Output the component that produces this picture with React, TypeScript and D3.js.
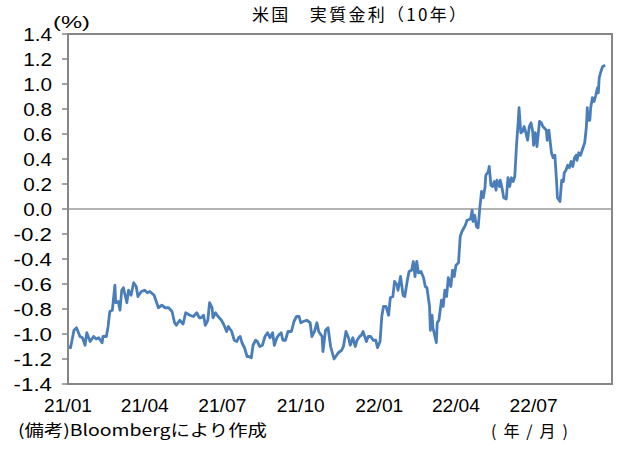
import * as d3 from "d3";

// 米国 実質金利（10年）, %
const DATES = [
  "2021-01-01", "2021-01-04", "2021-01-08", "2021-01-11", "2021-01-15", "2021-01-18", "2021-01-21", "2021-01-23",
  "2021-01-27", "2021-01-31", "2021-02-03", "2021-02-06", "2021-02-10", "2021-02-11", "2021-02-15", "2021-02-17",
  "2021-02-19", "2021-02-22", "2021-02-25", "2021-02-26", "2021-03-01", "2021-03-03", "2021-03-05", "2021-03-07",
  "2021-03-09", "2021-03-11", "2021-03-13", "2021-03-16", "2021-03-19", "2021-03-22", "2021-03-24", "2021-03-28",
  "2021-04-01", "2021-04-04", "2021-04-07", "2021-04-12", "2021-04-15", "2021-04-17", "2021-04-21", "2021-04-25",
  "2021-04-29", "2021-05-03", "2021-05-06", "2021-05-08", "2021-05-12", "2021-05-16", "2021-05-19", "2021-05-24",
  "2021-05-28", "2021-06-01", "2021-06-04", "2021-06-06", "2021-06-09", "2021-06-11", "2021-06-14", "2021-06-16",
  "2021-06-19", "2021-06-20", "2021-06-23", "2021-06-26", "2021-06-30", "2021-07-03", "2021-07-06", "2021-07-08",
  "2021-07-12", "2021-07-15", "2021-07-18", "2021-07-20", "2021-07-22", "2021-07-24", "2021-07-27", "2021-07-30",
  "2021-08-01", "2021-08-04", "2021-08-06", "2021-08-09", "2021-08-11", "2021-08-14", "2021-08-17", "2021-08-20",
  "2021-08-23", "2021-08-26", "2021-08-29", "2021-08-31", "2021-09-03", "2021-09-05", "2021-09-08", "2021-09-10",
  "2021-09-13", "2021-09-16", "2021-09-20", "2021-09-23", "2021-09-26", "2021-09-29", "2021-10-01", "2021-10-04",
  "2021-10-08", "2021-10-12", "2021-10-14", "2021-10-17", "2021-10-20", "2021-10-22", "2021-10-26", "2021-10-27",
  "2021-10-30", "2021-11-02", "2021-11-05", "2021-11-09", "2021-11-14", "2021-11-18", "2021-11-20", "2021-11-23",
  "2021-11-26", "2021-11-28", "2021-12-01", "2021-12-04", "2021-12-06", "2021-12-09", "2021-12-11", "2021-12-13",
  "2021-12-17", "2021-12-19", "2021-12-22", "2021-12-25", "2021-12-28", "2021-12-30", "2022-01-02", "2022-01-04",
  "2022-01-06", "2022-01-09", "2022-01-12", "2022-01-14", "2022-01-17", "2022-01-19", "2022-01-22", "2022-01-23",
  "2022-01-26", "2022-01-29", "2022-01-31", "2022-02-03", "2022-02-05", "2022-02-08", "2022-02-10", "2022-02-12",
  "2022-02-14", "2022-02-16", "2022-02-19", "2022-02-22", "2022-02-24", "2022-02-26", "2022-03-01", "2022-03-02",
  "2022-03-04", "2022-03-05", "2022-03-09", "2022-03-10", "2022-03-12", "2022-03-15", "2022-03-17", "2022-03-19",
  "2022-03-21", "2022-03-23", "2022-03-26", "2022-03-28", "2022-03-30", "2022-04-01", "2022-04-04", "2022-04-06",
  "2022-04-08", "2022-04-12", "2022-04-14", "2022-04-18", "2022-04-20", "2022-04-21", "2022-04-23", "2022-04-25",
  "2022-04-27", "2022-04-29", "2022-05-01", "2022-05-03", "2022-05-05", "2022-05-06", "2022-05-09", "2022-05-10",
  "2022-05-12", "2022-05-14", "2022-05-16", "2022-05-18", "2022-05-19", "2022-05-22", "2022-05-23", "2022-05-25",
  "2022-05-27", "2022-05-30", "2022-06-01", "2022-06-03", "2022-06-05", "2022-06-07", "2022-06-09", "2022-06-11",
  "2022-06-13", "2022-06-14", "2022-06-16", "2022-06-18", "2022-06-20", "2022-06-22", "2022-06-24", "2022-06-26",
  "2022-06-28", "2022-06-30", "2022-07-01", "2022-07-03", "2022-07-05", "2022-07-08", "2022-07-10", "2022-07-12",
  "2022-07-16", "2022-07-17", "2022-07-19", "2022-07-22", "2022-07-24", "2022-07-26", "2022-07-28", "2022-07-29",
  "2022-08-01", "2022-08-03", "2022-08-05", "2022-08-06", "2022-08-08", "2022-08-10", "2022-08-12", "2022-08-14",
  "2022-08-16", "2022-08-18", "2022-08-20", "2022-08-21", "2022-08-23", "2022-08-25", "2022-08-28", "2022-08-30",
  "2022-09-01", "2022-09-02", "2022-09-03", "2022-09-05", "2022-09-06", "2022-09-08", "2022-09-10", "2022-09-12",
  "2022-09-14", "2022-09-15", "2022-09-16", "2022-09-18", "2022-09-20", "2022-09-23",
];

const VALUES = [
  -1.10, -1.11, -0.97, -0.95, -1.02, -1.03, -1.09, -0.99,
  -1.06, -1.02, -1.04, -1.03, -1.07, -1.02, -1.02, -0.94,
  -0.82, -0.81, -0.61, -0.75, -0.74, -0.81, -0.65, -0.63,
  -0.69, -0.75, -0.65, -0.69, -0.59, -0.62, -0.70, -0.66,
  -0.65, -0.67, -0.66, -0.69, -0.75, -0.79, -0.77, -0.79,
  -0.79, -0.82, -0.91, -0.93, -0.89, -0.92, -0.83, -0.85,
  -0.86, -0.83, -0.87, -0.87, -0.85, -0.93, -0.89, -0.75,
  -0.79, -0.87, -0.83, -0.86, -0.89, -0.93, -0.98, -0.94,
  -0.98, -1.05, -1.06, -1.03, -1.02, -1.07, -1.11, -1.18,
  -1.18, -1.19, -1.09, -1.05, -1.06, -1.10, -1.09, -1.02,
  -0.99, -1.03, -0.99, -1.09, -1.03, -1.01, -0.99, -1.05,
  -1.05, -0.98, -0.98, -0.90, -0.86, -0.86, -0.91, -0.90,
  -0.89, -0.91, -1.02, -0.98, -0.91, -0.98, -1.02, -1.14,
  -0.97, -0.95, -1.10, -1.20, -1.15, -1.13, -1.10, -0.98,
  -1.03, -1.09, -1.03, -1.10, -1.05, -1.02, -1.01, -0.98,
  -1.06, -1.02, -1.02, -1.05, -1.05, -1.11, -1.06, -0.86,
  -0.78, -0.78, -0.85, -0.71, -0.70, -0.58, -0.61, -0.65,
  -0.54, -0.69, -0.70, -0.57, -0.50, -0.49, -0.42, -0.54,
  -0.42, -0.51, -0.50, -0.55, -0.62, -0.63, -0.78, -0.97,
  -0.85, -0.95, -1.07, -0.91, -0.89, -0.73, -0.78, -0.65,
  -0.70, -0.55, -0.62, -0.49, -0.54, -0.45, -0.43, -0.22,
  -0.18, -0.13, -0.09, -0.08, -0.01, -0.10, -0.05, -0.14,
  -0.15, 0.01, 0.14, 0.09, 0.17, 0.27, 0.30, 0.34,
  0.19, 0.18, 0.22, 0.15, 0.23, 0.18, 0.23, 0.17,
  0.09, 0.08, 0.25, 0.18, 0.25, 0.22, 0.26, 0.51,
  0.70, 0.81, 0.61, 0.62, 0.66, 0.61, 0.55, 0.66,
  0.69, 0.62, 0.51, 0.61, 0.50, 0.70, 0.69, 0.66,
  0.63, 0.55, 0.63, 0.45, 0.41, 0.43, 0.22, 0.09,
  0.06, 0.23, 0.22, 0.29, 0.31, 0.35, 0.33, 0.38,
  0.34, 0.41, 0.43, 0.39, 0.45, 0.43, 0.49, 0.53,
  0.66, 0.81, 0.71, 0.71, 0.81, 0.89, 0.86, 0.91,
  0.97, 0.93, 1.05, 1.10, 1.14, 1.15,
];

const Y_TICKS = [-1.4, -1.2, -1.0, -0.8, -0.6, -0.4, -0.2, 0, 0.2, 0.4, 0.6, 0.8, 1.0, 1.2, 1.4];
const X_TICK_DATES = ["2021-01-01", "2021-04-01", "2021-07-01", "2021-10-01", "2022-01-01", "2022-04-01", "2022-07-01"];
const X_TICK_LABELS = ["21/01", "21/04", "21/07", "21/10", "22/01", "22/04", "22/07"];
const X_DOMAIN = ["2021-01-01", "2022-10-01"];

const WIDTH = 641;
const HEIGHT = 450;
const M = { left: 68, right: 29, top: 34, bottom: 66 };
const FONT = "'Noto Sans CJK JP', sans-serif";
const NUM_FONT = "'Liberation Sans', sans-serif";
const AXIS = "#868686";
const LINE = "#4a7ebb";
// MS Gothic style half-width glyphs
const HALF = 9.6;

const parse = d3.utcParse("%Y-%m-%d");

export default function App() {
  const x = d3
    .scaleUtc()
    .domain(X_DOMAIN.map((d) => parse(d) as Date))
    .range([M.left, WIDTH - M.right]);
  const y = d3
    .scaleLinear()
    .domain([-1.4, 1.4])
    .range([HEIGHT - M.bottom, M.top]);

  const points = DATES.map((d, i) => ({ date: parse(d) as Date, value: VALUES[i] }));
  const line = d3
    .line<{ date: Date; value: number }>()
    .x((d) => x(d.date))
    .y((d) => y(d.value));

  const x0 = M.left;
  const x1 = WIDTH - M.right;
  const y0 = M.top;
  const y1 = HEIGHT - M.bottom;

  return (
    <svg
      width={WIDTH}
      height={HEIGHT}
      style={{ position: "absolute", left: 0, top: 0, background: "#fff" }}
      fontFamily={FONT}
    >
      <text x={359} y={21} fontSize={17} textAnchor="middle" textLength={214} lengthAdjust="spacing">
        米国　実質金利（10年）
      </text>
      <text x={53} y={28} fontSize={17} fontFamily={NUM_FONT} textLength={37} lengthAdjust="spacingAndGlyphs">
        (%)
      </text>

      {/* zero line */}
      <line x1={x0} x2={x1} y1={y(0)} y2={y(0)} stroke="#9a9a9a" strokeWidth={1.5} />

      <path d={line(points) ?? ""} fill="none" stroke={LINE} strokeWidth={2.8} strokeLinejoin="round" />

      {/* plot frame */}
      <rect x={x0} y={y0} width={x1 - x0} height={y1 - y0} fill="none" stroke={AXIS} strokeWidth={2} />

      {Y_TICKS.map((t) => {
        const label = t.toFixed(1);
        return (
          <g key={t}>
            <line x1={x0 - 6} x2={x0} y1={y(t)} y2={y(t)} stroke={AXIS} strokeWidth={1.5} />
            <text
              x={52}
              y={y(t) + 7}
              fontSize={19}
              fontFamily={NUM_FONT}
              textAnchor="end"
              textLength={label.length * HALF}
              lengthAdjust="spacingAndGlyphs"
            >
              {label}
            </text>
          </g>
        );
      })}

      {X_TICK_DATES.map((d, i) => (
        <text
          key={d}
          x={x(parse(d) as Date)}
          y={412}
          fontSize={19}
          fontFamily={NUM_FONT}
          textAnchor="middle"
          textLength={X_TICK_LABELS[i].length * HALF}
          lengthAdjust="spacingAndGlyphs"
        >
          {X_TICK_LABELS[i]}
        </text>
      ))}

      <text x={18} y={436} fontSize={16} textLength={249} lengthAdjust="spacingAndGlyphs">
        (備考)Bloombergにより作成
      </text>
      <text x={491} y={437} fontSize={16} textLength={77} lengthAdjust="spacing">
        (年/月)
      </text>
    </svg>
  );
}
